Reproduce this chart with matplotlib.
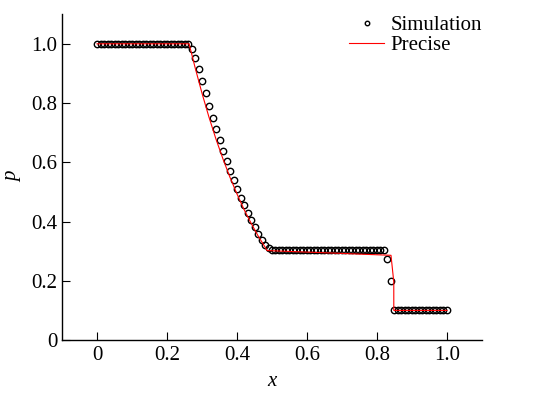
import matplotlib.pyplot as plt
import numpy as np

# simulation: grid x = 0.00 ... 1.00, step 0.01
x_sim = np.linspace(0.0, 1.0, 101)
p_sim = ([1.0] * 27
         + [0.982, 0.952, 0.915, 0.875, 0.833, 0.791, 0.751, 0.712, 0.675, 0.639,
            0.604, 0.571, 0.539, 0.510, 0.481, 0.455, 0.429, 0.404, 0.380, 0.358,
            0.339, 0.322, 0.310]
         + [0.305] * 33
         + [0.275, 0.200]
         + [0.1] * 16)

# precise solution
x_exact = [0.0, 0.263, 0.27, 0.28, 0.30, 0.32, 0.34, 0.36, 0.38, 0.40,
           0.42, 0.44, 0.46, 0.48, 0.486, 0.84, 0.848, 0.848, 1.0]
p_exact = [1.0, 1.0, 0.968, 0.921, 0.833, 0.752, 0.678, 0.611, 0.549, 0.493,
           0.441, 0.395, 0.352, 0.314, 0.302, 0.286, 0.196, 0.1, 0.1]

xticks = [0, 0.2, 0.4, 0.6, 0.8, 1.0]
xtick_labels = ["0", "0.2", "0.4", "0.6", "0.8", "1.0"]
yticks = [0, 0.2, 0.4, 0.6, 0.8, 1.0]
ytick_labels = ["0", "0.2", "0.4", "0.6", "0.8", "1.0"]

plt.rcParams['font.family'] = ['Liberation Serif', 'DejaVu Serif']

fig = plt.figure(figsize=(5.44, 3.94), dpi=100)
ax = fig.add_axes([0.114, 0.137, 0.772, 0.827])

ax.plot(x_sim, p_sim, 'o', markerfacecolor='none', markeredgecolor='black',
        markersize=4.6, markeredgewidth=1.0, label='Simulation')
ax.plot(x_exact, p_exact, '-', color='red', linewidth=0.8, label='Precise')

ax.set_xlim(-0.1, 1.1)
ax.set_ylim(0, 1.1)
ax.set_xticks(xticks)
ax.set_xticklabels(xtick_labels)
ax.set_yticks(yticks)
ax.set_yticklabels(ytick_labels)
ax.tick_params(direction='in', length=6, width=0.8, labelsize=15)
ax.tick_params(axis='x', pad=4)
ax.tick_params(axis='y', pad=3.5)
ax.spines['top'].set_visible(False)
ax.spines['right'].set_visible(False)
for s in ['left', 'bottom']:
    ax.spines[s].set_linewidth(1.0)

ax.set_xlabel('x', fontsize=15, style='italic', labelpad=5)
ax.set_ylabel('p', fontsize=15, style='italic', labelpad=6)

ax.legend(loc='upper right', bbox_to_anchor=(1.035, 1.04), frameon=False,
          fontsize=15, markerscale=0.7, labelspacing=0.0, handlelength=1.7,
          handletextpad=0.3, borderpad=0.2)

fig.savefig('out.png', dpi=100)
